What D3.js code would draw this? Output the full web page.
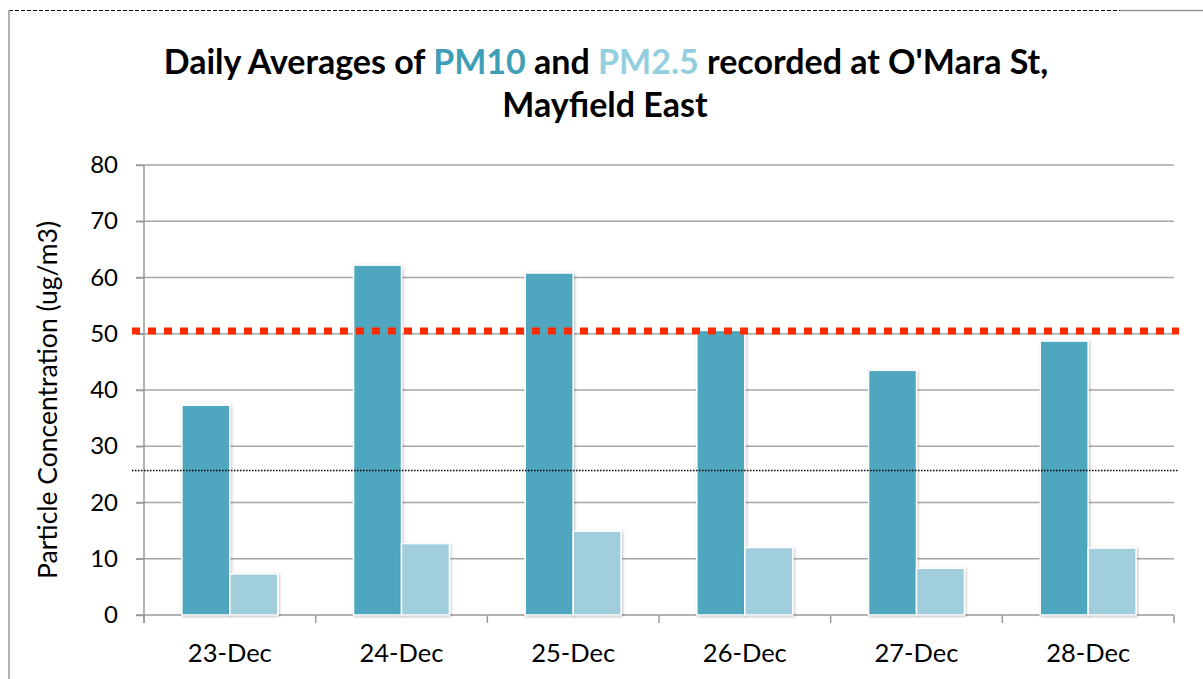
<!DOCTYPE html>
<meta charset="utf-8">
<style>
body { margin: 0; background: #fff; }
svg { font-family: Lato, "Open Sans", sans-serif; }
.grid line { stroke: #a6a6a6; stroke-width: 1.5px; }
.axis text { font-family: Lato, "Open Sans", sans-serif; fill: #000; }
.axis path, .axis line { stroke: #9a9a9a; stroke-width: 1.5px; }
.title { font-weight: bold; font-size: 34px; }
</style>
<body>
<script src="https://d3js.org/d3.v7.min.js"></script>
<script>
// chart values
let days = ["23-Dec", "24-Dec", "25-Dec", "26-Dec", "27-Dec", "28-Dec"]
let pm10 = [37.3, 62.2, 60.8, 50.6, 43.5, 48.7]
let pm25 = [7.3, 12.7, 14.9, 12.0, 8.3, 11.9]
let yTicks = [0, 10, 20, 30, 40, 50, 60, 70, 80]
let pm10Limit = 50.5
let pm25Limit = 25.7

var width = 1203,
    height = 679;

var margin = {left: 144, right: 29, top: 165, bottom: 64};

var svg = d3.select("body").append("svg")
    .attr("width", width)
    .attr("height", height);

// drop shadow for the bars
var defs = svg.append("defs");
var f = defs.append("filter").attr("id", "shadow")
    .attr("x", "-20%").attr("y", "-5%").attr("width", "140%").attr("height", "110%");
f.append("feDropShadow")
    .attr("dx", 1).attr("dy", 1).attr("stdDeviation", 1.5)
    .attr("flood-color", "#000").attr("flood-opacity", 0.25);

// outer frame
svg.append("line")
    .attr("x1", 9).attr("x2", 1120).attr("y1", 10.5).attr("y2", 10.5)
    .style("stroke", "#000").style("stroke-width", 1).style("stroke-dasharray", "4,2");
svg.append("line")
    .attr("x1", 1120).attr("x2", width).attr("y1", 10.5).attr("y2", 10.5)
    .style("stroke", "#999").style("stroke-width", 1.5);
svg.append("line")
    .attr("x1", 9).attr("x2", 9).attr("y1", 10).attr("y2", height)
    .style("stroke", "#999").style("stroke-width", 1.5);

var x = d3.scaleBand()
    .domain(days)
    .range([margin.left, width - margin.right]);

var y = d3.scaleLinear()
    .domain([0, 80])
    .range([height - margin.bottom, margin.top]);

// gridlines
svg.append("g")
    .attr("class", "grid")
    .selectAll("line")
    .data(yTicks.slice(1))
  .enter().append("line")
    .attr("x1", margin.left - 8)
    .attr("x2", width - margin.right)
    .attr("y1", function(d) { return y(d); })
    .attr("y2", function(d) { return y(d); });

// y axis
var yAxis = svg.append("g")
    .attr("class", "axis")
    .attr("transform", "translate(" + margin.left + ",0)")
    .call(d3.axisLeft(y).tickValues(yTicks).tickSize(8).tickPadding(18));
yAxis.select(".domain").attr("d", "M0," + (y(0) + 8) + "V" + y(80));
yAxis.selectAll("text").style("font-size", "24px");

// x axis with ticks at band boundaries
var xAxis = svg.append("g")
    .attr("class", "axis")
    .attr("transform", "translate(0," + y(0) + ")");
xAxis.append("line")
    .attr("x1", margin.left - 8).attr("x2", width - margin.right);
xAxis.selectAll(".bt")
    .data(days.concat(["end"]))
  .enter().append("line")
    .attr("class", "bt")
    .attr("x1", function(d, i) { return margin.left + i * x.bandwidth(); })
    .attr("x2", function(d, i) { return margin.left + i * x.bandwidth(); })
    .attr("y1", 0).attr("y2", 8);
xAxis.selectAll("text")
    .data(days)
  .enter().append("text")
    .attr("x", function(d) { return x(d) + x.bandwidth() / 2; })
    .attr("y", 47)
    .attr("text-anchor", "middle")
    .style("font-size", "25.5px")
    .text(function(d) { return d; });

// bars
var inner = d3.scaleBand()
    .domain(["pm10", "pm25"])
    .range([0, x.bandwidth()])
    .paddingOuter(0.79)
    .paddingInner(0);

var colors = {pm10: "#50a7bf", pm25: "#a1cedd"};

var bars = svg.append("g");
days.forEach(function(d, i) {
  [["pm10", pm10[i]], ["pm25", pm25[i]]].forEach(function(s) {
    bars.append("rect")
      .attr("x", x(d) + inner(s[0]))
      .attr("y", y(s[1]))
      .attr("width", inner.bandwidth())
      .attr("height", y(0) - y(s[1]))
      .style("fill", colors[s[0]])
      .style("stroke", "#fff")
      .style("stroke-width", 1.5)
      .attr("filter", "url(#shadow)");
  });
});

// limit lines
svg.append("line")
    .attr("x1", 132).attr("x2", 1179)
    .attr("y1", y(pm10Limit)).attr("y2", y(pm10Limit))
    .style("stroke", "#ff2a00")
    .style("stroke-width", 7)
    .style("stroke-dasharray", "8,8");

svg.append("line")
    .attr("x1", 132).attr("x2", 1179)
    .attr("y1", y(pm25Limit)).attr("y2", y(pm25Limit))
    .style("stroke", "#000")
    .style("stroke-width", 1.5)
    .style("stroke-dasharray", "1.5,1.5");

// y label
svg.append("text")
    .attr("transform", "translate(57,400) rotate(-90)")
    .attr("text-anchor", "middle")
    .style("font-size", "26.5px")
    .text("Particle Concentration (ug/m3)");

// title
var t = svg.append("text")
    .attr("class", "title")
    .attr("x", 606)
    .attr("y", 74)
    .attr("text-anchor", "middle");
t.append("tspan").text("Daily Averages of ");
t.append("tspan").style("fill", "#3f9fb6").text("PM10");
t.append("tspan").text(" and ");
t.append("tspan").style("fill", "#94cfe0").text("PM2.5");
t.append("tspan").text(" recorded at O'Mara St,");

svg.append("text")
    .attr("class", "title")
    .attr("x", 605)
    .attr("y", 117)
    .attr("text-anchor", "middle")
    .text("Mayfield East");
</script>
